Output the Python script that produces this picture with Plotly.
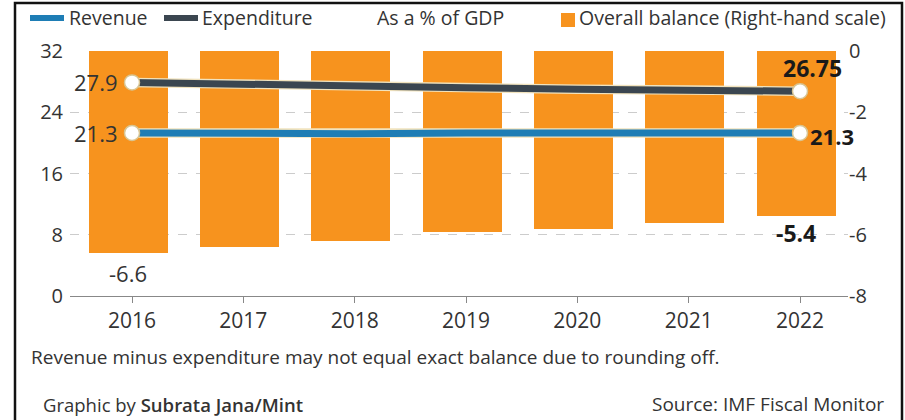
import plotly.graph_objects as go

# ---- data ----
years = ["2016", "2017", "2018", "2019", "2020", "2021", "2022"]
revenue = [21.3, 21.2, 21.2, 21.3, 21.3, 21.3, 21.3]
expenditure = [27.9, 27.6, 27.4, 27.2, 27.0, 26.9, 26.75]
balance = [-6.6, -6.4, -6.2, -5.9, -5.8, -5.6, -5.4]
left_ticks = [0, 8, 16, 24, 32]
right_ticks = [0, -2, -4, -6, -8]

# ---- style ----
ORANGE = "#F7931E"
BLUE = "#1E7DB5"
DARK = "#3B4650"
TEXT = "#333333"
CREAM = "#F1E3BE"
FONT = "Open Sans"

W, H = 905, 420
L, R, T, B = 70, 57, 51, 124
pw = W - L - R
ph = H - T - B


def px(x):
    return (x - L) / pw


def py(y):
    return (H - B - y) / ph


first, last = 0, len(years) - 1

fig = go.Figure()

# bars on the right-hand scale (base axis "y", drawn beneath)
fig.add_trace(go.Bar(
    x=years, y=balance, yaxis="y",
    marker=dict(color=ORANGE, line=dict(width=0)),
    width=0.71, offset=-0.39, hoverinfo="skip",
))

# lines on the left-hand scale (overlay axis "y2", drawn on top)
for vals, col in [(expenditure, DARK), (revenue, BLUE)]:
    fig.add_trace(go.Scatter(x=years, y=vals, yaxis="y2", mode="lines",
                             line=dict(color=CREAM, width=9.5), hoverinfo="skip"))
    fig.add_trace(go.Scatter(x=years, y=vals, yaxis="y2", mode="lines",
                             line=dict(color=col, width=7), hoverinfo="skip"))
    fig.add_trace(go.Scatter(x=[years[first], years[last]], y=[vals[first], vals[last]],
                             yaxis="y2", mode="markers",
                             marker=dict(size=15, color="white",
                                         line=dict(color="#D8C593", width=1.5)),
                             hoverinfo="skip"))

ann = []
lab = dict(size=22, color=TEXT, family=FONT)
labb = dict(size=23, color="#1a1a1a", family=FONT)
labb2 = dict(size=22, color="#1a1a1a", family=FONT)
# data labels (x as category index)
ann.append(dict(x=first, y=expenditure[first], xref="x", yref="y2", text=f"{expenditure[first]}",
                xanchor="right", yanchor="middle", xshift=-12, showarrow=False, font=lab))
ann.append(dict(x=first, y=revenue[first], xref="x", yref="y2", text=f"{revenue[first]}",
                xanchor="right", yanchor="middle", xshift=-12, showarrow=False, font=lab))
ann.append(dict(x=first, y=balance[first], xref="x", yref="y", text=f"{balance[first]}",
                xanchor="center", yanchor="top", xshift=-4, yshift=-3, showarrow=False, font=lab))
ann.append(dict(x=last, y=expenditure[last], xref="x", yref="y2", text=f"<b>{expenditure[last]}</b>",
                xanchor="center", yanchor="bottom", xshift=12, yshift=5, showarrow=False, font=labb))
ann.append(dict(x=last, y=revenue[last], xref="x", yref="y2", text=f"<b>{revenue[last]}</b>",
                xanchor="left", yanchor="middle", xshift=8, yshift=-3, showarrow=False, font=labb2))
ann.append(dict(x=last, y=balance[last], xref="x", yref="y", text=f"<b>{balance[last]}</b>",
                xanchor="center", yanchor="top", xshift=-4, yshift=1, showarrow=False, font=labb))

# legend (manual)
leg_font = dict(size=19.5, color=TEXT, family=FONT)
ann.append(dict(x=px(67), y=py(18), xref="paper", yref="paper", text="Revenue",
                xanchor="left", yanchor="middle", showarrow=False, font=leg_font))
ann.append(dict(x=px(200), y=py(18), xref="paper", yref="paper", text="Expenditure",
                xanchor="left", yanchor="middle", showarrow=False, font=leg_font))
ann.append(dict(x=px(375), y=py(18), xref="paper", yref="paper", text="As a % of GDP",
                xanchor="left", yanchor="middle", showarrow=False, font=leg_font))
ann.append(dict(x=px(577), y=py(18), xref="paper", yref="paper",
                text="Overall balance (Right-hand scale)",
                xanchor="left", yanchor="middle", showarrow=False, font=leg_font))

# footer
ann.append(dict(x=px(29), y=py(357), xref="paper", yref="paper",
                text="Revenue minus expenditure may not equal exact balance due to rounding off.",
                xanchor="left", yanchor="middle", showarrow=False,
                font=dict(size=19, color=TEXT, family=FONT)))
ann.append(dict(x=px(41), y=py(404), xref="paper", yref="paper",
                text="Graphic by <span style='font-weight:600'>Subrata Jana/Mint</span>",
                xanchor="left", yanchor="middle", showarrow=False,
                font=dict(size=18.5, color=TEXT, family=FONT)))
ann.append(dict(x=px(886), y=py(404), xref="paper", yref="paper",
                text="Source: IMF Fiscal Monitor",
                xanchor="right", yanchor="middle", showarrow=False,
                font=dict(size=19, color=TEXT, family=FONT)))

shapes = [
    dict(type="line", xref="paper", yref="paper", x0=px(30), x1=px(64), y0=py(18), y1=py(18),
         line=dict(color=BLUE, width=6)),
    dict(type="line", xref="paper", yref="paper", x0=px(164), x1=px(198), y0=py(18), y1=py(18),
         line=dict(color=DARK, width=6)),
    dict(type="rect", xref="paper", yref="paper", x0=px(561), x1=px(575), y0=py(27), y1=py(13),
         fillcolor=ORANGE, line=dict(width=0)),
    dict(type="rect", xref="paper", yref="paper", x0=px(15), x1=px(902), y0=py(3), y1=py(440),
         line=dict(color="#111111", width=2.5), fillcolor="rgba(0,0,0,0)"),
]

fig.update_layout(
    width=W, height=H,
    margin=dict(l=L, r=R, t=T, b=B, autoexpand=False),
    paper_bgcolor="white", plot_bgcolor="white",
    showlegend=False, bargap=0,
    font=dict(family=FONT, color=TEXT),
    xaxis=dict(type="category", range=[-0.557, 6.431], showgrid=False,
               showline=True, linecolor="#888888", linewidth=1,
               ticks="outside", ticklen=6, tickcolor="#888888",
               tickfont=dict(size=21, color=TEXT, family=FONT)),
    yaxis=dict(side="right", range=[-8, 0], tickvals=right_ticks,
               ticktext=[str(v) for v in right_ticks],
               showgrid=True, gridcolor="#cccccc", griddash="dash", gridwidth=1,
               zeroline=False, showline=False, ticks="",
               tickfont=dict(size=20, color=TEXT, family=FONT)),
    yaxis2=dict(side="left", overlaying="y", range=[0, 32], tickvals=left_ticks,
                showgrid=False, zeroline=False, showline=False, ticks="",
                ticklabelstandoff=6,
                tickfont=dict(size=20, color=TEXT, family=FONT)),
    annotations=ann, shapes=shapes,
)

fig.write_html(
    "out.html",
    config={"displayModeBar": False},
    post_script="document.body.style.margin='0px';document.body.style.overflow='hidden';",
)
